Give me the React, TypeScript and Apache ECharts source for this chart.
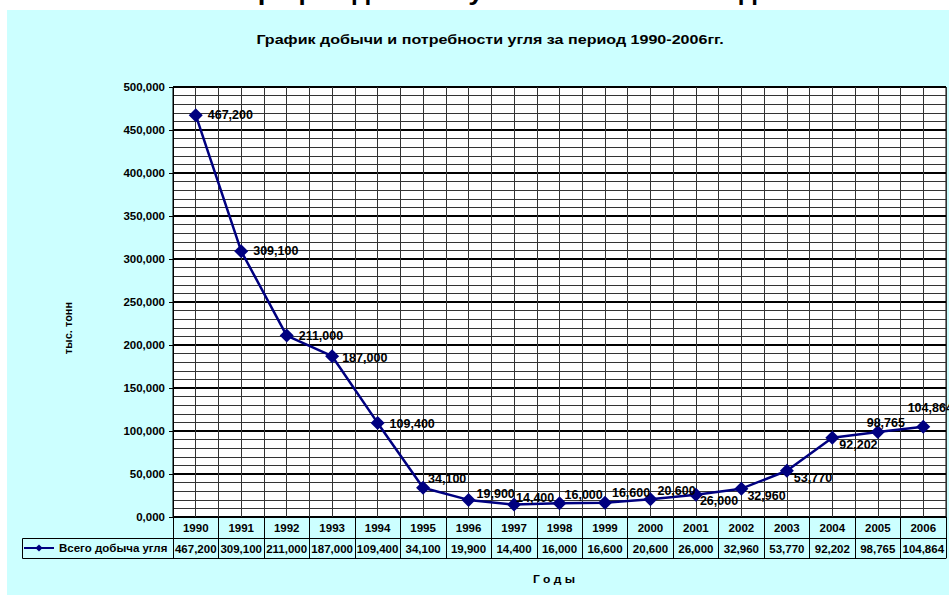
import React, { useEffect, useRef } from 'react';
import * as echarts from 'echarts';

const years = ['1990', '1991', '1992', '1993', '1994', '1995', '1996', '1997', '1998', '1999', '2000', '2001', '2002', '2003', '2004', '2005', '2006'];
const production = [467.2, 309.1, 211.0, 187.0, 109.4, 34.1, 19.9, 14.4, 16.0, 16.6, 20.6, 26.0, 32.96, 53.77, 92.202, 98.765, 104.864];
const seriesName = 'Всего добыча угля';
const chartTitle = 'График добычи и потребности угля за период 1990-2006гг.';
const pageHeading = 'График добычи угля за 1990-2006 год';
const yName = 'тыс. тонн';
const xName = 'Г о д ы';
const yMin = 0;
const yMax = 500;
const yInterval = 50;

// label placement tweaks (layout only)
const labelPlacement: { pos: string; off: number[] }[] = [
  { pos: 'right', off: [0, 0] },
  { pos: 'right', off: [0, 0] },
  { pos: 'right', off: [0, 0] },
  { pos: 'right', off: [-2, 2] },
  { pos: 'right', off: [0, 1] },
  { pos: 'right', off: [-7, -9] },
  { pos: 'right', off: [-4, -6] },
  { pos: 'right', off: [-10, -7] },
  { pos: 'right', off: [-7, -8] },
  { pos: 'right', off: [-5, -10] },
  { pos: 'right', off: [-5, -8] },
  { pos: 'right', off: [-8, 6] },
  { pos: 'right', off: [-6, 7] },
  { pos: 'right', off: [-5, 7] },
  { pos: 'right', off: [-5, 7] },
  { pos: 'top', off: [8, 9] },
  { pos: 'top', off: [7, 0] },
];

const FONT = '"Liberation Sans", Arial, sans-serif';
const fmt = (v: number) => v.toFixed(3).replace('.', ',');

export default function App() {
  const ref = useRef<HTMLDivElement>(null);
  useEffect(() => {
    const chart = echarts.init(ref.current!, null, { renderer: 'svg' });
    const option: any = {
      animation: false,
      backgroundColor: '#ffffff',
      textStyle: { fontFamily: FONT },
      graphic: [
        { type: 'rect', z: -10, shape: { x: 7, y: 10, width: 942, height: 585 }, style: { fill: '#CCFFFF' } },
        {
          type: 'text', x: 500, y: -8.5, z: 5, scaleX: 1.15,
          style: { text: pageHeading, fontSize: 24, fontWeight: 'bold', fontFamily: FONT, fill: '#000', align: 'center', verticalAlign: 'middle' },
        },
        {
          type: 'text', x: 490, y: 40, z: 5, scaleX: 1.34,
          style: { text: chartTitle, fontSize: 12, fontWeight: 'bold', fontFamily: FONT, fill: '#000', align: 'center', verticalAlign: 'middle' },
        },
        {
          type: 'text', x: 68, y: 328, z: 5, rotation: Math.PI / 2,
          style: { text: yName, fontSize: 11, fontWeight: 'bold', fontFamily: FONT, fill: '#000', align: 'center', verticalAlign: 'middle' },
        },
        {
          type: 'text', x: 554, y: 579, z: 5, scaleX: 1.15,
          style: { text: xName, fontSize: 10.5, fontWeight: 'bold', fontFamily: FONT, fill: '#000', align: 'center', verticalAlign: 'middle' },
        },
        { type: 'rect', z: 10, shape: { x: 22.5, y: 538.5, width: 151, height: 20 }, style: { fill: 'none', stroke: '#000', lineWidth: 1 } },
      ],
      legend: {
        show: true,
        left: 23,
        top: 542,
        padding: 0,
        itemWidth: 30,
        itemHeight: 9,
        itemGap: 4,
        textStyle: { fontFamily: FONT, fontSize: 11.5, fontWeight: 'bold', color: '#000' },
        data: [seriesName],
      },
      grid: {
        left: 173,
        right: 3,
        top: 87,
        bottom: 78,
        show: true,
        backgroundColor: '#ffffff',
        borderColor: '#000',
        borderWidth: 1,
      },
      xAxis: [
        {
          type: 'category',
          data: years,
          position: 'bottom',
          boundaryGap: true,
          axisLine: { show: true, lineStyle: { color: '#000', width: 1 } },
          axisTick: { show: true, length: 41, lineStyle: { color: '#000', width: 1 } },
          axisLabel: { show: true, interval: 0, margin: 5, fontFamily: FONT, fontSize: 11.5, fontWeight: 'bold', color: '#000' },
          splitLine: { show: false },
        },
        {
          type: 'category',
          data: production.map(fmt),
          position: 'bottom',
          offset: 21,
          boundaryGap: true,
          axisLine: { show: true, lineStyle: { color: '#000', width: 1 } },
          axisTick: { show: false },
          axisLabel: { show: true, interval: 0, margin: 5, fontFamily: FONT, fontSize: 11.5, fontWeight: 'bold', color: '#000' },
          splitLine: { show: false },
        },
        {
          type: 'category',
          data: years,
          position: 'bottom',
          offset: 41,
          boundaryGap: true,
          axisLine: { show: true, lineStyle: { color: '#000', width: 1 } },
          axisTick: { show: false },
          axisLabel: { show: false },
          splitLine: { show: false },
        },
        {
          type: 'value',
          position: 'top',
          min: 0,
          max: years.length * 2,
          interval: 1,
          axisLine: { show: false },
          axisTick: { show: false },
          axisLabel: { show: false },
          splitLine: { show: true, lineStyle: { color: '#333', width: 1 } },
        },
      ],
      yAxis: {
        type: 'value',
        min: yMin,
        max: yMax,
        interval: yInterval,
        axisLine: { show: true, lineStyle: { color: '#000', width: 1 } },
        axisTick: { show: true, length: 4, lineStyle: { color: '#000' } },
        axisLabel: { formatter: (v: number) => fmt(v), margin: 8, fontFamily: FONT, fontSize: 11.5, fontWeight: 'bold', color: '#000' },
        splitLine: { show: true, lineStyle: { color: '#000', width: 2 } },
        minorTick: { show: false, splitNumber: 5 },
        minorSplitLine: { show: true, lineStyle: { color: '#333', width: 1 } },
      },
      series: [
        {
          name: seriesName,
          type: 'line',
          xAxisIndex: 0,
          data: production.map((v, i) => ({
            value: v,
            label: { position: labelPlacement[i].pos, offset: labelPlacement[i].off },
          })),
          symbol: 'diamond',
          symbolSize: 14,
          z: 10,
          lineStyle: { color: '#000080', width: 2.5 },
          itemStyle: { color: '#000080' },
          label: {
            show: true,
            formatter: (p: any) => fmt(p.value),
            fontFamily: FONT,
            fontSize: 12.5,
            fontWeight: 'bold',
            color: '#000',
          },
        },
      ],
    };
    chart.setOption(option);
    return () => chart.dispose();
  }, []);
  return <div ref={ref} style={{ position: 'absolute', left: 0, top: 0, width: 949, height: 595 }} />;
}
